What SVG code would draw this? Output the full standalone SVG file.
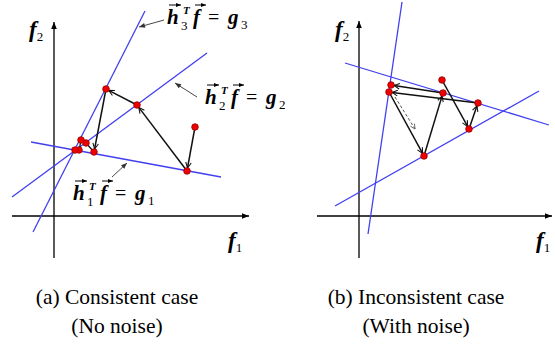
<svg xmlns="http://www.w3.org/2000/svg" width="555" height="345" viewBox="0 0 555 345">
<style>
.axis{stroke:#000;stroke-width:1.3;fill:none}
.blue{stroke:#4040f0;stroke-width:1.3;fill:none}
.arr{stroke:#111;stroke-width:1.5;fill:none;marker-end:url(#ah)}
.sm{stroke:#111;stroke-width:1.3;fill:none}
.dash{stroke:#555;stroke-width:1;stroke-dasharray:3 2;fill:none;marker-end:url(#ahg)}
.ptr{stroke:#333;stroke-width:0.9;fill:none;marker-end:url(#ahp)}
.vec{stroke:#000;stroke-width:1;fill:none;marker-end:url(#ahv)}
.dot{fill:#ee0000;stroke:#900;stroke-width:0.8}
text{font-family:'Liberation Serif','Times New Roman','DejaVu Serif',serif;fill:#000}
.lbl{font-size:21px}
.m{font-weight:bold;font-style:italic;font-size:21px}
.r{font-weight:normal;font-style:normal;font-size:20px}
.s{font-weight:normal;font-style:normal;font-size:13px}
.sb{font-weight:bold;font-style:italic;font-size:11px}
.ax{font-weight:bold;font-style:italic;font-size:23px}
.cap{font-size:21.5px;text-anchor:middle}
</style>
<defs>
<marker id="ah" viewBox="0 0 10 10" refX="9" refY="5" markerWidth="7" markerHeight="7" markerUnits="userSpaceOnUse" orient="auto">
<path d="M1,1 L9,5 L1,9" fill="none" stroke="#111" stroke-width="1.5"/>
</marker>
<marker id="ahg" viewBox="0 0 10 10" refX="9" refY="5" markerWidth="6" markerHeight="6" markerUnits="userSpaceOnUse" orient="auto">
<path d="M1,1 L9,5 L1,9" fill="none" stroke="#555" stroke-width="1.3"/>
</marker>
<marker id="ahp" viewBox="0 0 10 10" refX="10" refY="5" markerWidth="7" markerHeight="6" markerUnits="userSpaceOnUse" orient="auto">
<path d="M0,1 L10,5 L0,9 Z" fill="#333"/>
</marker>
<marker id="ahv" viewBox="0 0 10 10" refX="10" refY="5" markerWidth="5" markerHeight="5" markerUnits="userSpaceOnUse" orient="auto">
<path d="M0,1 L10,5 L0,9 Z" fill="#000"/>
</marker>
<marker id="axh" viewBox="0 0 10 10" refX="10" refY="5" markerWidth="8" markerHeight="7" markerUnits="userSpaceOnUse" orient="auto">
<path d="M0,1 L10,5 L0,9 Z" fill="#000"/>
</marker>
</defs>

<g id="panel-a-axes">
<line class="axis" x1="54" y1="258" x2="54" y2="22" marker-end="url(#axh)"/>
<line class="axis" x1="12" y1="216" x2="249" y2="216" marker-end="url(#axh)"/>
<text class="ax" x="29" y="37">f<tspan class="s" font-weight="bold" dy="4">2</tspan></text>
<text class="ax" x="228" y="248">f<tspan class="s" font-weight="bold" dy="4">1</tspan></text>
</g>

<g id="panel-a-lines">
<line class="blue" x1="33" y1="232" x2="145" y2="11"/>
<line class="blue" x1="12" y1="197" x2="207" y2="53"/>
<line class="blue" x1="31" y1="142" x2="221" y2="177"/>
</g>

<g id="panel-a-connectors">
<line class="arr" x1="195" y1="127" x2="187.5" y2="168"/>
<line class="arr" x1="187" y1="171" x2="138.8" y2="107.4"/>
<line class="arr" x1="137" y1="105" x2="108.7" y2="90.4"/>
<line class="arr" x1="106" y1="89" x2="94.6" y2="149"/>
<polyline class="sm" points="94,152 86,143 81,140 79,151 75,150"/>
<line class="ptr" x1="164" y1="20" x2="139" y2="27"/>
<line class="ptr" x1="197" y1="97" x2="175" y2="83"/>
<line class="ptr" x1="112" y1="177" x2="127" y2="163"/>
</g>

<g id="panel-a-points">
<circle class="dot" cx="195" cy="127" r="3.3"/>
<circle class="dot" cx="187" cy="171" r="3.3"/>
<circle class="dot" cx="137" cy="105" r="3.3"/>
<circle class="dot" cx="106" cy="89" r="3.3"/>
<circle class="dot" cx="94" cy="152" r="3.3"/>
<circle class="dot" cx="86" cy="143" r="3.3"/>
<circle class="dot" cx="81" cy="140" r="3.3"/>
<circle class="dot" cx="79" cy="150" r="3.3"/>
<circle class="dot" cx="75" cy="150" r="3.3"/>
</g>

<g id="label-g3" transform="translate(167,24)">
<text class="lbl"><tspan class="m" x="0" y="0">h</tspan><tspan class="s" x="14" y="6">3</tspan><tspan class="sb" x="16" y="-10">T</tspan><tspan class="m" x="26" y="0">f</tspan><tspan class="r" x="41" y="0">=</tspan><tspan class="m" x="61" y="0">g</tspan><tspan class="s" x="74" y="5">3</tspan></text>
<line class="vec" x1="2" y1="-19" x2="14" y2="-19"/>
<line class="vec" x1="28" y1="-19" x2="39" y2="-19"/>
</g>

<g id="label-g2" transform="translate(205,104)">
<text class="lbl"><tspan class="m" x="0" y="0">h</tspan><tspan class="s" x="14" y="6">2</tspan><tspan class="sb" x="16" y="-10">T</tspan><tspan class="m" x="26" y="0">f</tspan><tspan class="r" x="41" y="0">=</tspan><tspan class="m" x="61" y="0">g</tspan><tspan class="s" x="74" y="5">2</tspan></text>
<line class="vec" x1="2" y1="-19" x2="14" y2="-19"/>
<line class="vec" x1="28" y1="-19" x2="39" y2="-19"/>
</g>

<g id="label-g1" transform="translate(73,200)">
<text class="lbl"><tspan class="m" x="0" y="0">h</tspan><tspan class="s" x="14" y="6">1</tspan><tspan class="sb" x="16" y="-10">T</tspan><tspan class="m" x="27" y="0">f</tspan><tspan class="r" x="42" y="0">=</tspan><tspan class="m" x="62" y="0">g</tspan><tspan class="s" x="75" y="5">1</tspan></text>
<line class="vec" x1="2" y1="-19" x2="14" y2="-19"/>
<line class="vec" x1="29" y1="-19" x2="40" y2="-19"/>
</g>

<g id="panel-b-axes">
<line class="axis" x1="359" y1="258" x2="359" y2="21" marker-end="url(#axh)"/>
<line class="axis" x1="317" y1="216" x2="552" y2="216" marker-end="url(#axh)"/>
<text class="ax" x="335" y="37">f<tspan class="s" font-weight="bold" dy="4">2</tspan></text>
<text class="ax" x="536" y="248">f<tspan class="s" font-weight="bold" dy="4">1</tspan></text>
</g>

<g id="panel-b-lines">
<line class="blue" x1="368" y1="234" x2="402" y2="2"/>
<line class="blue" x1="345" y1="63" x2="549" y2="125"/>
<line class="blue" x1="335" y1="206" x2="539" y2="91"/>
</g>

<g id="panel-b-connectors">
<line class="arr" x1="442" y1="80" x2="467.6" y2="126.4"/>
<line class="arr" x1="469" y1="129" x2="477" y2="105.8"/>
<line class="arr" x1="478" y1="103" x2="392" y2="92.4"/>
<line class="arr" x1="389" y1="92" x2="422.6" y2="153.4"/>
<line class="arr" x1="424" y1="156" x2="442.1" y2="95.9"/>
<line class="arr" x1="443" y1="93" x2="394" y2="85.4"/>
<line class="dash" x1="395" y1="97" x2="415" y2="129"/>
</g>

<g id="panel-b-points">
<circle class="dot" cx="442" cy="80" r="3.3"/>
<circle class="dot" cx="469" cy="129" r="3.3"/>
<circle class="dot" cx="478" cy="103" r="3.3"/>
<circle class="dot" cx="389" cy="92" r="3.3"/>
<circle class="dot" cx="391" cy="85" r="3.3"/>
<circle class="dot" cx="424" cy="156" r="3.3"/>
<circle class="dot" cx="443" cy="93" r="3.3"/>
</g>

<g id="captions">
<text class="cap" x="117" y="304">(a) Consistent case</text>
<text class="cap" x="117" y="333">(No noise)</text>
<text class="cap" x="416" y="304">(b) Inconsistent case</text>
<text class="cap" x="416" y="333">(With noise)</text>
</g>
</svg>
